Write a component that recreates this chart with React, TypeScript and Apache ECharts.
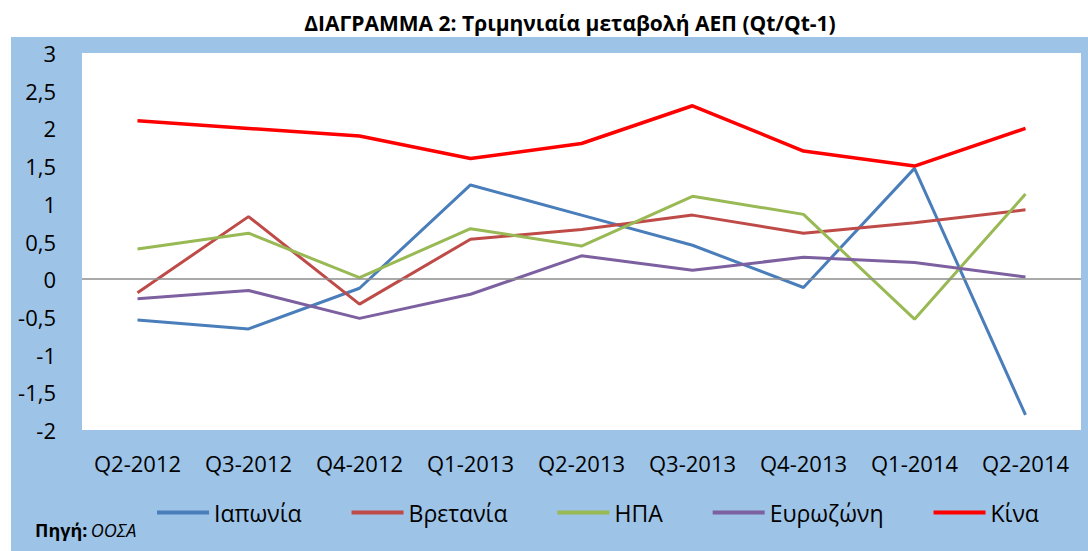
import React, { useEffect, useRef } from "react";
import * as echarts from "echarts";

const categories = ["Q2-2012", "Q3-2012", "Q4-2012", "Q1-2013", "Q2-2013", "Q3-2013", "Q4-2013", "Q1-2014", "Q2-2014"];
const japan = [-0.54, -0.66, -0.12, 1.25, 0.85, 0.45, -0.11, 1.47, -1.8];
const britain = [-0.18, 0.83, -0.33, 0.53, 0.66, 0.85, 0.61, 0.75, 0.92];
const usa = [0.4, 0.61, 0.02, 0.67, 0.44, 1.1, 0.86, -0.53, 1.13];
const eurozone = [-0.26, -0.15, -0.52, -0.2, 0.31, 0.12, 0.29, 0.22, 0.03];
const china = [2.1, 2.0, 1.9, 1.6, 1.8, 2.3, 1.7, 1.5, 2.0];
const seriesNames = ["Ιαπωνία", "Βρετανία", "ΗΠΑ", "Ευρωζώνη", "Κίνα"];
const seriesColors = ["#4A7EBB", "#BE4B48", "#98B954", "#7D60A0", "#FF0000"];
const seriesData = [japan, britain, usa, eurozone, china];

const FONT = "'Open Sans', 'DejaVu Sans', sans-serif";

export default function App() {
  const ref = useRef<HTMLDivElement>(null);
  useEffect(() => {
    if (!ref.current) return;
    const chart = echarts.init(ref.current, undefined, { renderer: "svg" });
    const lines = seriesNames.map((name, i) => ({
      name,
      type: "line",
      data: seriesData[i],
      symbol: "none",
      z: 3,
      lineStyle: { color: seriesColors[i], width: i === 4 ? 3.5 : 3 },
      itemStyle: { color: seriesColors[i] },
    }));
    chart.setOption({
      animation: false,
      backgroundColor: "#ffffff",
      textStyle: { fontFamily: FONT },
      title: {
        text: "ΔΙΑΓΡΑΜΜΑ 2: Τριμηνιαία μεταβολή ΑΕΠ (Qt/Qt-1)",
        left: 565,
        textAlign: "center",
        top: 7,
        textStyle: { fontFamily: FONT, fontSize: 21, fontWeight: "bold", color: "#000" },
      },
      graphic: [
        {
          type: "rect",
          z: -10,
          shape: { x: 11, y: 37, width: 1077, height: 514 },
          style: { fill: "#9DC3E6" },
          silent: true,
        },
        {
          type: "text",
          left: 35,
          top: 521,
          style: {
            text: "{b|Πηγή:} {i|ΟΟΣΑ}",
            rich: {
              b: { fontFamily: FONT, fontSize: 18, fontWeight: "bold", fill: "#000" },
              i: { fontFamily: FONT, fontSize: 18, fontStyle: "italic", fill: "#000" },
            },
          },
        },
      ],
      legend: {
        data: seriesNames,
        left: 152,
        top: 496,
        icon: "rect",
        itemWidth: 52,
        itemHeight: 4,
        itemGap: 50,
        textStyle: { fontFamily: FONT, fontSize: 23, color: "#000" },
      },
      grid: {
        left: 82,
        right: 7,
        top: 53,
        bottom: 121,
        show: true,
        backgroundColor: "#ffffff",
        borderWidth: 0,
      },
      xAxis: {
        type: "category",
        data: categories,
        boundaryGap: true,
        axisLine: { show: false },
        axisTick: { show: false },
        axisLabel: { fontFamily: FONT, fontSize: 22, color: "#000", margin: 22, interval: 0 },
      },
      yAxis: {
        type: "value",
        min: -2,
        max: 3,
        interval: 0.5,
        axisLine: { show: false },
        axisTick: { show: false },
        splitLine: { show: false },
        axisLabel: {
          fontFamily: FONT,
          fontSize: 22,
          color: "#000",
          margin: 26,
          formatter: (v: number) => String(v).replace(".", ","),
        },
      },
      series: [
        {
          name: "zero",
          type: "line",
          data: [],
          z: 1,
          silent: true,
          markLine: {
            silent: true,
            symbol: "none",
            label: { show: false },
            lineStyle: { color: "#8C8C8C", width: 1.5, type: "solid" },
            data: [{ yAxis: 0 }],
          },
        },
        ...lines,
      ],
    });
    return () => chart.dispose();
  }, []);
  return <div ref={ref} style={{ position: "fixed", left: 0, top: 0, width: 1088, height: 551 }} />;
}
